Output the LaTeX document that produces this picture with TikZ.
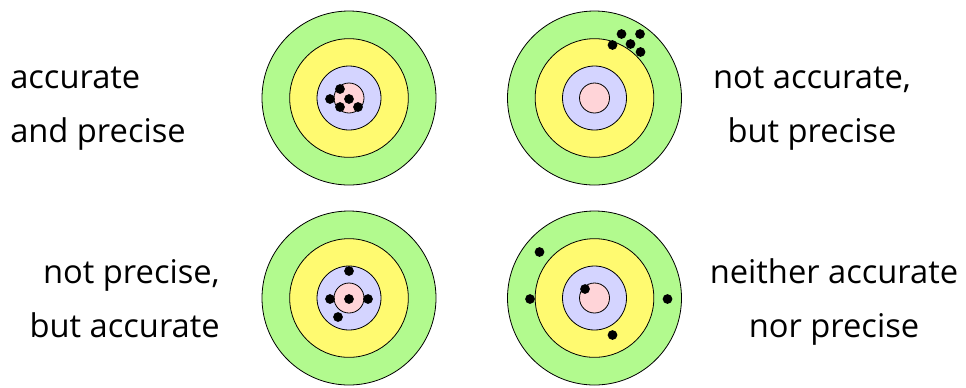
\documentclass[tikz,border=0pt]{standalone}
\usepackage{fontspec}
\setmainfont{Open Sans}
\usetikzlibrary{calc}
\definecolor{tGreen}{RGB}{178,250,142}
\definecolor{tYellow}{RGB}{255,250,112}
\definecolor{tBlue}{RGB}{212,212,255}
\definecolor{tPink}{RGB}{255,212,216}
\tikzset{
  ring/.style={circle, draw=black, line width=0.6pt, inner sep=0pt},
  hit/.style={circle, fill=black, inner sep=0pt, minimum size=7.3pt},
  caption/.style={font=\fontsize{24.5}{40.5}\selectfont, inner sep=0pt},
}
% one target: name, x, y
\newcommand{\target}[3]{%
  \node[ring, fill=tGreen,  minimum size=130.5pt] (#1) at (#2,#3) {};
  \node[ring, fill=tYellow, minimum size=89pt]   at (#1) {};
  \node[ring, fill=tBlue,   minimum size=48pt]   at (#1) {};
  \node[ring, fill=tPink,   minimum size=22.5pt] at (#1) {};
}

\begin{document}
\begin{tikzpicture}[x=0.75pt, y=-0.75pt]
    \useasboundingbox (0,0) rectangle (966,387);
    \target{ap}{349}{98}
    \target{np}{594.5}{98}
    \target{pn}{349}{298}
    \target{nn}{594.5}{298}
    % hits
    \foreach \dx/\dy in {-9/-9, -19/1, 0/1, -9/9, 9/9}
      \node[hit] at ($(ap)+(\dx,\dy)$) {};
    \foreach \dx/\dy in {27/-64, 45.5/-64, 18/-53, 36/-54, 46/-46}
      \node[hit] at ($(np)+(\dx,\dy)$) {};
    \foreach \dx/\dy in {0/-27, -19/1, 0/1, 19/1, -11/19}
      \node[hit] at ($(pn)+(\dx,\dy)$) {};
    \foreach \dx/\dy in {-55/-46, -64.5/1, 73/1, -9.5/-9, 18/37}
      \node[hit] at ($(nn)+(\dx,\dy)$) {};
    % captions (base = last line)
    \node[caption, align=left, anchor=base west] (lap) at (10,142) {accurate\\and precise};
    \node[caption, align=center, anchor=base] (lnp) at (812,142) {not accurate,\\but precise};
    \node[caption, align=right, anchor=base east] (lpn) at (220,337) {not precise,\\but accurate};
    \node[caption, align=center, anchor=base] (lnn) at (834,337) {neither accurate\\nor precise};
\end{tikzpicture}
\end{document}
